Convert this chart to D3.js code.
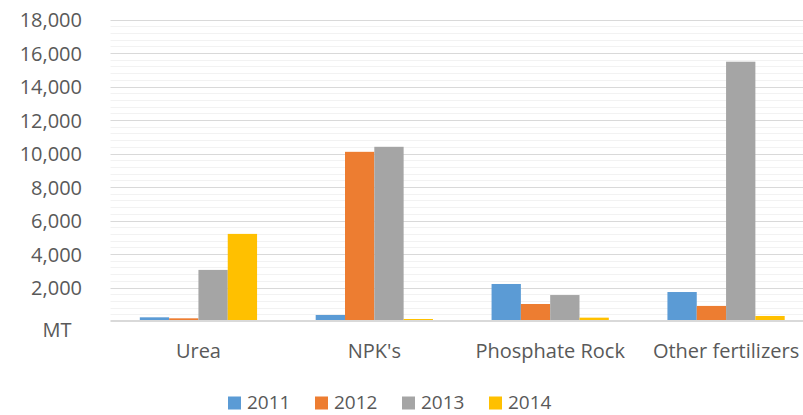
<!DOCTYPE html>
<html>
  <head>
    <meta charset="utf-8" />
    <title>fertilizers</title>
    <script src="https://cdn.jsdelivr.net/npm/d3@7"></script>
    <style type="text/css">
      body { margin: 0; background: #fff; }
      svg text { font-family: "Open Sans", sans-serif; fill: #595959; }
    </style>
  </head>

  <body>
    <svg id="chart" width="803" height="415"></svg>
    <script type="text/javascript">
      var categories = ["Urea", "NPK's", "Phosphate Rock", "Other fertilizers"];
      var years = ["2011", "2012", "2013", "2014"];
      var v2011 = [220, 360, 2210, 1730];
      var v2012 = [160, 10100, 1015, 900];
      var v2013 = [3050, 10400, 1550, 15480];
      var v2014 = [5200, 120, 200, 300];
      var yTicks = [2000, 4000, 6000, 8000, 10000, 12000, 14000, 16000, 18000];
      var colors = ["#5B9BD5", "#ED7D31", "#A5A5A5", "#FFC000"];

      var series = [v2011, v2012, v2013, v2014];
      var svg = d3.select('#chart');

      var scX = d3.scaleBand().domain(categories).range([110.5, 814]);
      var scInner = d3.scaleBand().domain(years)
        .range([0, scX.bandwidth()]).paddingOuter(1);
      var scY = d3.scaleLinear().domain([0, 18000]).range([321, 19.5]);

      // gridlines: minor every 400, major every 2000
      var grid = svg.append('g');
      grid.selectAll('line.minor')
        .data(d3.range(400, 18001, 400).filter((v) => v % 2000 != 0))
        .enter().append('line')
        .attr('x1', 110.5).attr('x2', 814)
        .attr('y1', (d) => Math.round(scY(d)) + 0.5)
        .attr('y2', (d) => Math.round(scY(d)) + 0.5)
        .attr('stroke', '#f2f2f2');
      grid.selectAll('line.major')
        .data(yTicks)
        .enter().append('line')
        .attr('x1', 110.5).attr('x2', 814)
        .attr('y1', (d) => Math.round(scY(d)) + 0.5)
        .attr('y2', (d) => Math.round(scY(d)) + 0.5)
        .attr('stroke', '#d9d9d9');

      // bars
      var groups = svg.append('g').selectAll('g')
        .data(series).enter().append('g')
        .attr('fill', (d, i) => colors[i]);
      groups.selectAll('rect')
        .data((d, i) => d.map((v, j) => ({ cat: categories[j], year: years[i], v: v })))
        .enter().append('rect')
        .attr('x', (d) => scX(d.cat) + scInner(d.year))
        .attr('width', scInner.bandwidth())
        .attr('y', (d) => scY(d.v))
        .attr('height', (d) => scY(0) - scY(d.v));

      // baseline
      svg.append('line')
        .attr('x1', 110.5).attr('x2', 814)
        .attr('y1', scY(0)).attr('y2', scY(0))
        .attr('stroke', '#d9d9d9').attr('stroke-width', 2);

      // y tick labels
      svg.append('g').selectAll('text')
        .data(yTicks).enter().append('text')
        .attr('x', 82).attr('y', (d) => scY(d))
        .attr('text-anchor', 'end')
        .attr('dominant-baseline', 'central')
        .attr('font-size', 20)
        .text((d) => d3.format(',')(d));
      svg.append('text')
        .attr('x', 57).attr('y', 329)
        .attr('text-anchor', 'middle')
        .attr('dominant-baseline', 'central')
        .attr('font-size', 20)
        .text('MT');

      // category labels
      svg.append('g').selectAll('text')
        .data(categories).enter().append('text')
        .attr('x', (d) => scX(d) + scX.bandwidth() / 2)
        .attr('y', 358)
        .attr('text-anchor', 'middle')
        .attr('font-size', 20)
        .text((d) => d);

      // legend
      var leg = svg.append('g').selectAll('g')
        .data(years).enter().append('g')
        .attr('transform', (d, i) => 'translate(' + (228 + i * 87) + ',0)');
      leg.append('rect')
        .attr('x', 0).attr('y', 396.5)
        .attr('width', 13).attr('height', 13)
        .attr('fill', (d, i) => colors[i]);
      leg.append('text')
        .attr('x', 19).attr('y', 402)
        .attr('dominant-baseline', 'central')
        .attr('font-size', 19)
        .text((d) => d);
    </script>
  </body>
</html>
